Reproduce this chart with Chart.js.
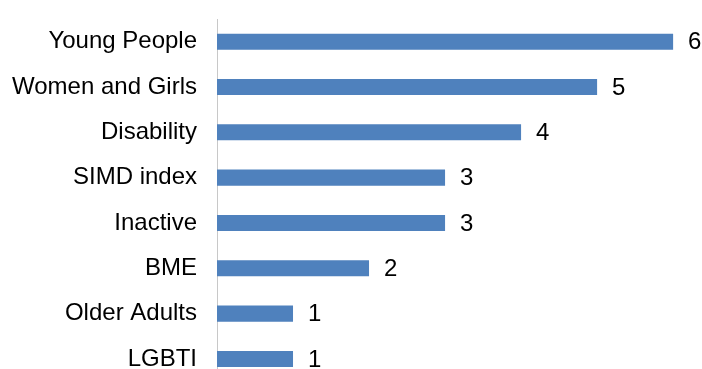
<!DOCTYPE html>
<html>
<head>
<meta charset="utf-8">
<script src="https://cdn.jsdelivr.net/npm/chart.js@4"></script>
<style>
  body { margin: 0; background: #fff; }
  #wrap { width: 702px; height: 369px; overflow: hidden; }
</style>
</head>
<body>
<div id="wrap"><canvas id="myChart" width="702" height="396"></canvas></div>
<script>
const grupos = ["Young People", "Women and Girls", "Disability", "SIMD index", "Inactive", "BME", "Older Adults", "LGBTI"];
const contagem = [6, 5, 4, 3, 3, 2, 1, 1];

const fonte = "Arial, 'Liberation Sans', sans-serif";

// escreve o valor ao lado de cada barra
const rotulos = {
	id: "rotulos",
	afterDatasetsDraw(chart) {
		const c = chart.ctx;
		c.save();
		c.font = "24px " + fonte;
		c.fillStyle = "#000";
		c.textBaseline = "middle";
		c.textAlign = "left";
		chart.getDatasetMeta(0).data.forEach((bar, i) => {
			c.fillText(String(contagem[i]), bar.x + 15, bar.y + 1);
		});
		c.restore();
	},
};

const ctx = document.getElementById("myChart");

let grafico = new Chart(ctx, {
	type: "bar",
	data: {
		labels: grupos,
		datasets: [
			{
				label: "Grupos",
				data: contagem,
				backgroundColor: "#4F81BD",
				barPercentage: 0.354,
				categoryPercentage: 1,
			},
		],
	},
	options: {
		indexAxis: "y",
		responsive: false,
		animation: false,
		layout: { padding: { top: 19, bottom: 0, left: 0, right: 0 } },
		plugins: {
			legend: { display: false },
			tooltip: { enabled: false },
		},
		scales: {
			x: {
				display: false,
				min: 0,
				max: 6.38,
			},
			y: {
				afterFit(scale) {
					scale.width = 217;
				},
				// marcas invisiveis so para afastar os nomes do eixo
				grid: {
					display: true,
					drawOnChartArea: false,
					drawTicks: true,
					tickLength: 20,
					color: "rgba(0,0,0,0)",
				},
				border: { display: true, color: "#C8C8C8", width: 1 },
				ticks: {
					padding: 0,
					color: "#000",
					font: { size: 24, family: fonte },
				},
			},
		},
	},
	plugins: [rotulos],
});
</script>
</body>
</html>
